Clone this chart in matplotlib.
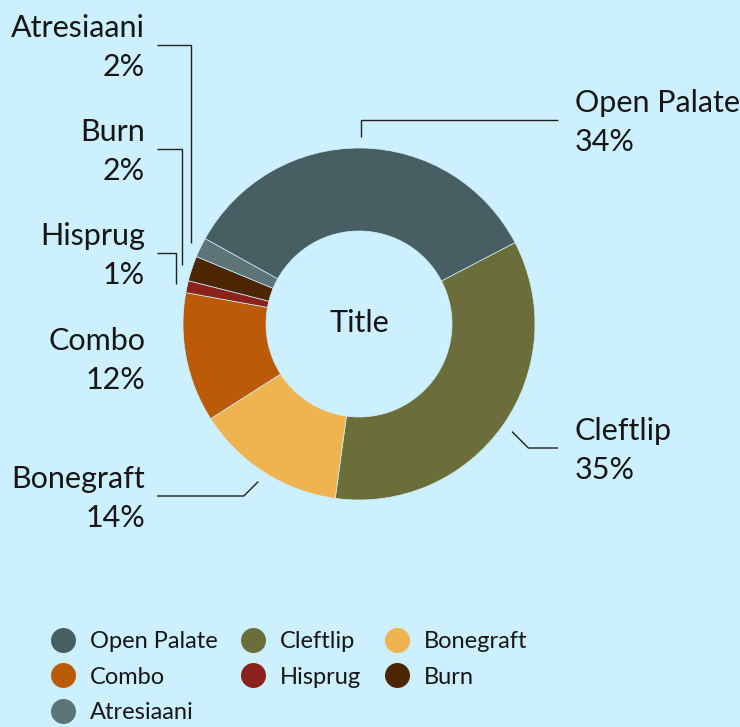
import matplotlib
matplotlib.use('Agg')
import matplotlib.pyplot as plt
import numpy as np
from matplotlib.lines import Line2D

# ---------------- data ----------------
categories = ['Open Palate', 'Cleftlip', 'Bonegraft', 'Combo', 'Hisprug', 'Burn', 'Atresiaani']
values = [34.3, 34.8, 13.8, 11.9, 1.1, 2.3, 1.8]
colors = ['#475f62', '#6b6e3b', '#efb34f', '#bb5b08', '#8b231c', '#4c2502', '#5d7578']
center_title = 'Title'

# ---------------- layout (pixels, y from top) ----------------
W, H = 740, 727
BG = '#ccf0fe'
TXT = '#161616'
CX, CY, R, RING = 359, 324, 176, 83
# side, leader y, text x, leader end x, elbow style
label_layout = {
    'Open Palate': ('right', 120, 575, 558, 'vertical'),
    'Cleftlip':    ('right', 448, 575, 558, 'diag'),
    'Bonegraft':   ('left', 496, 145, 157, 'diag'),
    'Combo':       ('left', 358, 145, None, None),
    'Hisprug':     ('left', 253, 145, 157, 'vertical'),
    'Burn':        ('left', 149, 145, 157, 'vertical'),
    'Atresiaani':  ('left', 45, 145, 157, 'vertical'),
}

plt.rcParams['font.family'] = ['Lato', 'DejaVu Sans']
WEIGHT = 'normal'

fig = plt.figure(figsize=(W / 100, H / 100), dpi=100, facecolor=BG)
ax = fig.add_axes([0, 0, 1, 1])
ax.set_facecolor(BG)

def Y(py):
    return H - py

wedges, _ = ax.pie(values, colors=colors, startangle=151, counterclock=False,
                   radius=R, center=(CX, Y(CY)), frame=True,
                   wedgeprops=dict(width=RING, edgecolor=BG, linewidth=0.5))
ax.set_xlim(0, W)
ax.set_ylim(0, H)
ax.set_aspect('auto')
ax.axis('off')

FS = 22
ax.text(CX, Y(332), center_title, ha='center', va='baseline', fontsize=FS,
        color=TXT, fontweight=WEIGHT)

total = sum(values)
for w, name, v in zip(wedges, categories, values):
    side, ly, tx, lend, style = label_layout[name]
    mid = np.deg2rad((w.theta1 + w.theta2) / 2)
    ax_ = CX + (R + 11) * np.cos(mid)
    ay_ = Y(CY) + (R + 11) * np.sin(mid)
    ha = 'left' if side == 'right' else 'right'
    ax.text(tx, Y(ly - 8), name, ha=ha, va='baseline', fontsize=FS, color=TXT,
            fontweight=WEIGHT)
    ax.text(tx, Y(ly + 31), f'{round(v / total * 100)}%', ha=ha, va='baseline',
            fontsize=FS, color=TXT, fontweight=WEIGHT)
    if lend is None:
        continue
    if style == 'vertical':
        ex = ax_
    else:
        d = abs(Y(ly) - ay_)
        ex = ax_ + d if side == 'right' else ax_ - d
    ax.plot([ax_, ex, lend], [ay_, Y(ly), Y(ly)], color='#222222', lw=1.0,
            solid_joinstyle='miter', solid_capstyle='butt')

# legend (row-wise order in 3 columns)
handles = [Line2D([], [], marker='o', linestyle='none', markersize=18,
                  markerfacecolor=c, markeredgewidth=0, label=n)
           for n, c in zip(categories, colors)]
order = [0, 3, 6, 1, 4, 2, 5]
fig.legend([handles[i] for i in order], [categories[i] for i in order],
           ncol=3, loc='upper left', bbox_to_anchor=(51 / W, 1 - 631 / H),
           frameon=False, borderpad=0, borderaxespad=0,
           prop=dict(size=17, weight=WEIGHT),
           handlelength=1.0, handletextpad=0.65, columnspacing=1.0,
           labelspacing=0.62, labelcolor=TXT)

fig.savefig('out.png', dpi=100, facecolor=BG)
